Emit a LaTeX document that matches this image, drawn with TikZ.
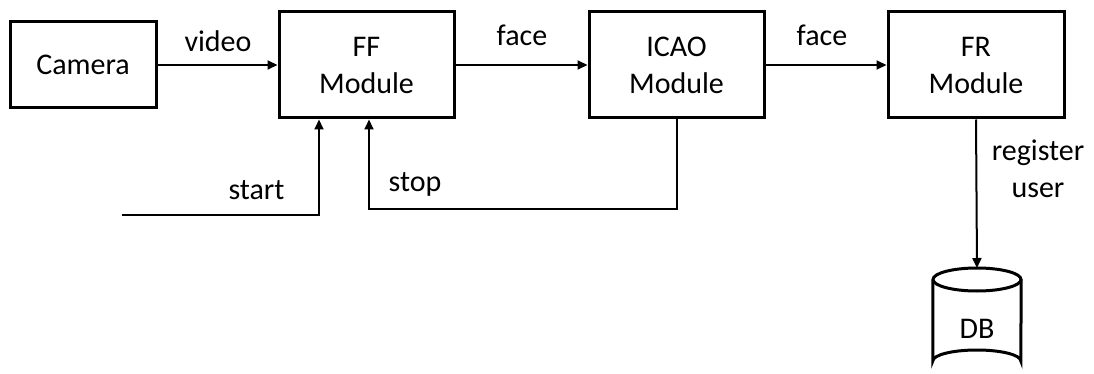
\documentclass[tikz,border=0pt]{standalone}
\usepackage{fontspec}
\setmainfont{Carlito}
\usetikzlibrary{arrows.meta}
\begin{document}
\begin{tikzpicture}[x=1pt,y=-1pt,
  box/.style={draw, line width=3pt, minimum width=#1, minimum height=106pt, inner sep=0pt, align=center, font=\fontsize{30}{37}\selectfont},
  box/.default=175pt,
  conn/.style={line width=2pt, -{Triangle[length=10pt,width=9pt]}},
  lbl/.style={font=\fontsize{30}{37}\selectfont, inner sep=0pt, align=center}]
\useasboundingbox (0,0) rectangle (1094,374);
\node[box=146pt, minimum height=86pt] (cam) at (83,65) {Camera};
\node[box] (ff) at (366.5,65) {FF\\Module};
\node[box] (icao) at (676.5,65) {ICAO\\Module};
\node[box=176pt] (fr) at (976,65) {FR\\Module};
% DB cylinder
\node[inner sep=0pt, minimum width=88pt, minimum height=106pt, anchor=north] (db) at (977,268) {};
\draw[line width=3pt] ([yshift=-11.5pt]db.north west) -- ([yshift=-93pt]db.north west)
  arc[start angle=180, end angle=360, x radius=44pt, y radius=-11pt]
  -- ([yshift=-11.5pt]db.north east);
\draw[line width=3pt] ([yshift=-11.5pt]db.north) ellipse[x radius=44pt, y radius=11.5pt];
\node[lbl, anchor=base] (dbt) at (977,338) {DB};
% connectors
\draw[conn] (cam.east) -- (ff.west);
\draw[conn] (ff.east) -- (icao.west);
\draw[conn] (icao.east) -- (fr.west);
\draw[conn] (fr.south) -- (db.north);
\coordinate (startin) at (122,215);
\draw[conn] (startin) -| ([xshift=-47.5pt]ff.south);
\draw[conn] (icao.south) |- (369,209) -- ([xshift=2.5pt]ff.south);
% labels
\node[lbl, anchor=base] (lvideo) at (218,52) {video};
\node[lbl, anchor=base] (lface1) at (522,46) {face};
\node[lbl, anchor=base] (lface2) at (822,46) {face};
\node[lbl, anchor=base] (lstart) at (256.5,200) {start};
\node[lbl, anchor=base] (lstop) at (415,192) {stop};
\node[lbl, anchor=base] (lreg) at (1038,197) {register\\user};
\end{tikzpicture}
\end{document}
